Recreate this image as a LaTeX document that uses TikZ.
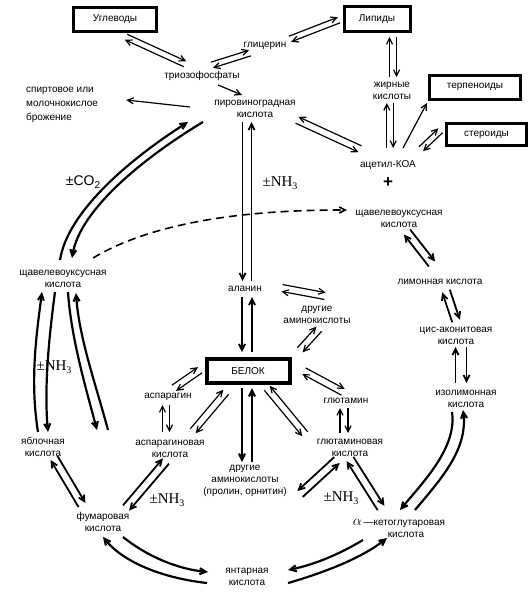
\documentclass[tikz,border=0pt]{standalone}
\usepackage{fontspec}
\setmainfont{Liberation Sans}
\newfontfamily\ser{Liberation Serif}
\usetikzlibrary{arrows.meta,calc}

\tikzset{
 lbl/.style={font=\fontsize{10}{12}\selectfont, align=center, inner sep=1pt},
 box/.style={draw, line width=3pt, font=\fontsize{10}{12}\selectfont, inner sep=0pt},
 ar/.style={line width=1.2pt, -{Straight Barb[length=6pt,width=6pt]}},
 tk/.style={line width=1.8pt},
 tkk/.style={line width=2.2pt},
 nh/.style={font=\ser\fontsize{15}{15}\selectfont, inner sep=0pt},
 dsh/.style={line width=1.6pt, dash pattern=on 8pt off 5pt, -{Straight Barb[length=6pt,width=6pt]}},
}
\newcommand\prr[4][]{%
 \path #3 coordinate (pA) #4 coordinate (pB);
 \draw[ar,#1] ($(pA)!#2!90:(pB)$) -- ($(pB)!#2!-90:(pA)$);
 \draw[ar,#1] ($(pB)!#2!90:(pA)$) -- ($(pA)!#2!-90:(pB)$);
}
\newcommand\nhtext{±NH\raisebox{-3pt}{\fontsize{10}{10}\selectfont 3}}

\begin{document}
\begin{tikzpicture}[x=1pt,y=-1pt]
\useasboundingbox (0,0) rectangle (529,600);

% boxes
\node[box, minimum width=83pt, minimum height=24pt] (U) at (115,19) {Углеводы};
\node[box, minimum width=66pt, minimum height=25pt] (L) at (377,19) {Липиды};
\node[box, minimum width=91pt, minimum height=24pt] (ter) at (475,87) {терпеноиды};
\node[box, minimum width=80pt, minimum height=22pt] (ster) at (486.5,134.5) {стероиды};
\node[box, line width=4pt, minimum width=83pt, minimum height=24pt] (prot) at (248,371) {БЕЛОК};

% labels
\node[lbl] (gly) at (265,46) {глицерин};
\node[lbl] (tri) at (202,76) {триозофосфаты};
\node[lbl, anchor=west, align=left, font=\fontsize{10}{14}\selectfont] (ferm) at (25,105) {спиртовое или\\молочнокислое\\брожение};
\node[lbl] (pyr) at (255,109) {пировиноградная\\кислота};
\node[lbl] (fa) at (392,91) {жирные\\кислоты};
\node[lbl] (acet) at (388,165) {ацетил-КОА};
\node[font=\bfseries\fontsize{17}{17}\selectfont, inner sep=0pt] (plus) at (388,183) {+};
\node[lbl] (oaR) at (399,219) {щавелевоуксусная\\кислота};
\node[lbl] (cit) at (440,282) {лимонная кислота};
\node[lbl] (cis) at (456,336) {цис-аконитовая\\кислота};
\node[lbl] (iso) at (466,399) {изолимонная\\кислота};
\node[lbl] (akg) at (399,528) {{\fontsize{15}{12}\selectfont$\alpha$}\,—кетоглутаровая\\\hspace*{14pt}кислота};
\node[lbl] (suc) at (247,577) {янтарная\\кислота};
\node[lbl] (fum) at (103,522) {фумаровая\\кислота};
\node[lbl] (mal) at (43,447) {яблочная\\кислота};
\node[lbl] (oaL) at (63,279) {щавелевоуксусная\\кислота};
\node[lbl] (ala) at (245,289) {аланин};
\node[lbl] (aa1) at (317,315) {другие\\аминокислоты};
\node[lbl] (asn) at (168,397) {аспарагин};
\node[lbl] (asp) at (170,449) {аспарагиновая\\кислота};
\node[lbl] (gln) at (346,401) {глютамин};
\node[lbl] (glu) at (350,448) {глютаминовая\\кислота};
\node[lbl] (aa2) at (245,481) {другие\\аминокислоты\\(пролин, орнитин)};

% reaction labels
\node[font=\fontsize{14}{14}\selectfont, inner sep=0pt] (co2) at (83,182) {±CO\raisebox{-3pt}{\fontsize{10}{10}\selectfont 2}};
\node[nh] (nh1) at (280,183) {\nhtext};
\node[nh] (nh2) at (54,367) {\nhtext};
\node[nh] (nh3) at (167,500) {\nhtext};
\node[nh] (nh4) at (341,498) {\nhtext};

% upper pairs
\prr{3pt}{([shift={(11,18)}]U.center)}{([shift={(-17,-12)}]tri.center)}
\prr{3pt}{([shift={(10,-11)}]tri.center)}{([shift={(-15,7)}]gly.center)}
\prr{3pt}{([shift={(25,-7)}]gly.center)}{([shift={(-38,1)}]L.center)}
\prr{3.5pt}{([shift={(1,-14)}]fa.center)}{([shift={(16,18)}]L.center)}
\prr{3.2pt}{([shift={(2,-17)}]acet.center)}{([shift={(-2,12)}]fa.center)}
\draw[ar] ([shift={(15,-17)}]acet.center) -- ([shift={(-48,16)}]ter.center);
\prr{3pt}{([shift={(33,-16)}]acet.center)}{([shift={(-46,-4)}]ster.center)}
\prr{-3.5pt}{([shift={(42,11)}]pyr.center)}{([shift={(-28,-16)}]acet.center)}
\draw[ar] ([shift={(16,9)}]tri.center) -- ([shift={(-13,-14)}]pyr.center);
\draw[ar] ([shift={(-65,-2)}]pyr.center) -- ([shift={(27,-5)}]ferm.east);

% pyruvate - alanine - protein
\prr[tk]{-4.5pt}{([shift={(-8,13)}]pyr.center)}{([shift={(2,-8)}]ala.center)}
\prr[tk]{-5pt}{([shift={(2,8)}]ala.center)}{([shift={(-1,-19)}]prot.center)}
\prr{3.5pt}{([shift={(37,-1)}]ala.center)}{([shift={(8,-19)}]aa1.center)}
\prr{3.5pt}{([shift={(52,-21)}]prot.center)}{([shift={(2,14)}]aa1.center)}
\prr{3.5pt}{([shift={(56,0)}]prot.center)}{([shift={(-3,-9)}]gln.center)}
\prr{4pt}{([shift={(-6,-15)}]glu.center)}{([shift={(-2,7)}]gln.center)}
\prr{-3.5pt}{([shift={(19,17)}]prot.center)}{([shift={(-45,-14)}]glu.center)}
\prr[tkk]{-5pt}{([shift={(-1,17)}]prot.center)}{([shift={(2,-19)}]aa2.center)}
\prr{3.5pt}{([shift={(23,-18)}]asp.center)}{([shift={(-22,21)}]prot.center)}
\prr{3.5pt}{([shift={(6,-9)}]asn.center)}{([shift={(-48,-1)}]prot.center)}
\prr{3.5pt}{([shift={(-4,-17)}]asp.center)}{([shift={(-2,8)}]asn.center)}
\prr[tk]{4pt}{([shift={(23,-14)}]fum.center)}{([shift={(-4,12)}]asp.center)}
\prr[tk]{4pt}{([shift={(11,11)}]mal.center)}{([shift={(-21,-17)}]fum.center)}
\prr[tk]{4pt}{([shift={(0,11)}]glu.center)}{([shift={(-18,-20)}]akg.center)}
\prr[tk]{-4pt}{([shift={(55,13)}]aa2.center)}{([shift={(-13,12)}]glu.center)}

% cycle right side
\prr[tk]{4pt}{([shift={(8,13)}]oaR.center)}{([shift={(-8,-18)}]cit.center)}
\prr[tk]{4pt}{([shift={(6,9)}]cit.center)}{([shift={(0,-15)}]cis.center)}
\prr[tk]{5.5pt}{([shift={(5,11)}]cis.center)}{([shift={(-5,-16)}]iso.center)}

% curves
\draw[ar,tkk] ([shift={(-14,13)}]iso.center) .. controls +(5,35) and +(25,-30) .. ([shift={(1,-18)}]akg.center);
\draw[ar,tkk] ([shift={(16,-18)}]akg.center) .. controls +(25,-30) and +(5,40) .. ([shift={(-3,11)}]iso.center);
\draw[ar,tkk] ([shift={(-36,12)}]akg.center) .. controls +(-25,15) and +(25,-5) .. ([shift={(41,-7)}]suc.center);
\draw[ar,tkk] ([shift={(41,6)}]suc.center) .. controls +(35,-10) and +(-25,20) .. ([shift={(-12,10)}]akg.center);
\draw[ar,tkk] ([shift={(20,15)}]fum.center) .. controls +(25,20) and +(-30,-3) .. ([shift={(-39,-5)}]suc.center);
\draw[ar,tkk] ([shift={(-40,6)}]suc.center) .. controls +(-45,-5) and +(20,25) .. ([shift={(0,15)}]fum.center);

\draw[ar,tkk] ([shift={(-3,-19)}]oaL.center) .. controls +(8,-50) and +(-55,35) .. ([shift={(-67,13)}]pyr.center);
\draw[ar,tkk] ([shift={(-52,13)}]pyr.center) .. controls +(-55,33) and +(8,-50) .. ([shift={(9,-21)}]oaL.center);
\draw[dsh] ([shift={(30,-21)}]oaL.center) .. controls +(75,-45) and +(-60,0) .. ([shift={(-52,-9)}]oaR.center);

\draw[ar,tkk] ([shift={(-5,-15)}]mal.center) .. controls +(-8,-50) and +(-6,45) .. ([shift={(-21,13)}]oaL.center);
\draw[ar,tkk] ([shift={(-8,13)}]oaL.center) .. controls +(-6,45) and +(-4,-45) .. ([shift={(5,-15)}]mal.center);
\draw[ar,tkk] ([shift={(5,13)}]oaL.center) .. controls +(3,45) and +(-12,-45) .. ([shift={(-73,-19)}]asp.center);
\draw[ar,tkk] ([shift={(-62,-19)}]asp.center) .. controls +(-12,-45) and +(3,45) .. ([shift={(13,14)}]oaL.center);
\end{tikzpicture}
\end{document}
